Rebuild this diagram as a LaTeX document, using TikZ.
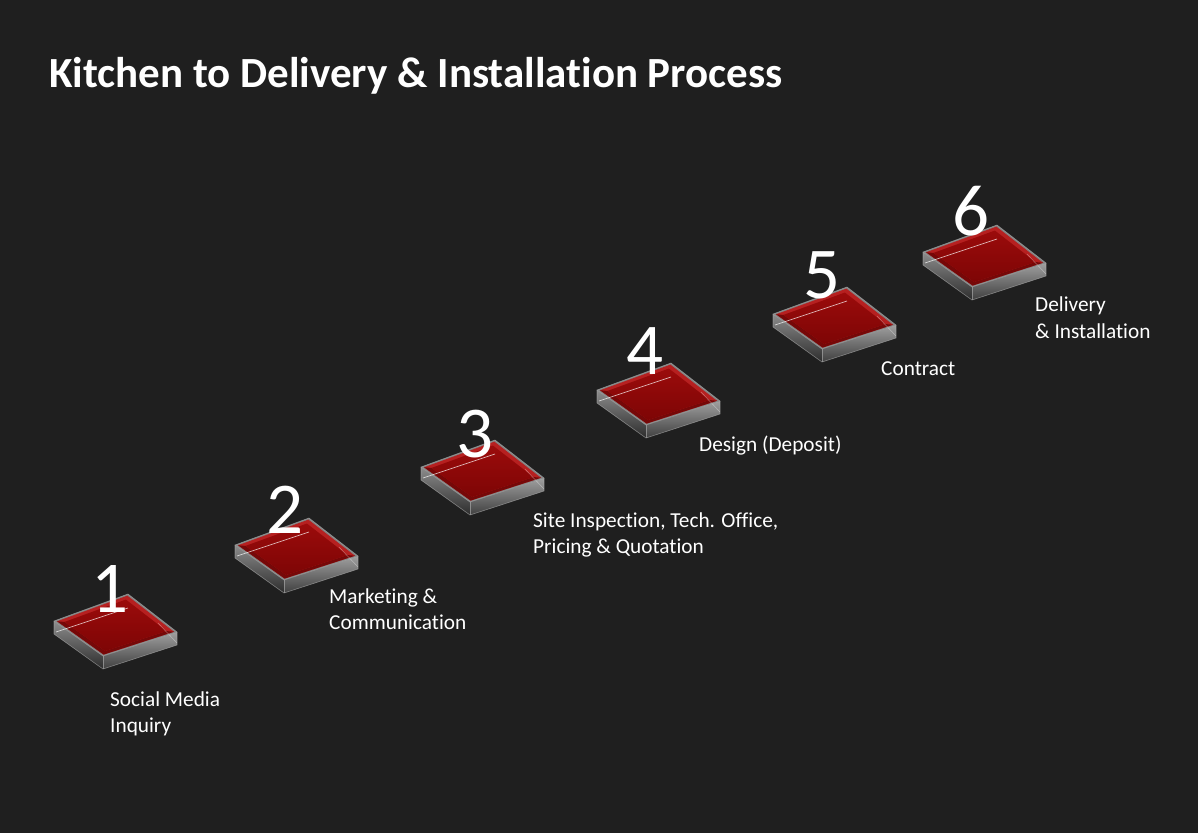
\documentclass[tikz,border=0pt]{standalone}
\usepackage{fontspec}
\setmainfont[Ligatures=NoCommon]{Carlito}
\usepackage{xcolor}
\usetikzlibrary{calc}

\definecolor{slidebg}{RGB}{31,31,31}
\definecolor{innerred}{RGB}{148,6,6}
\definecolor{bevelred}{RGB}{182,32,32}
\definecolor{frontred}{RGB}{118,8,8}
\definecolor{rimgray}{RGB}{130,130,130}

\begin{document}
\begin{tikzpicture}[x=1pt, y=-1pt,
        title/.style={text=white, inner sep=0pt, font=\fontsize{43}{48}\selectfont\bfseries},
        num/.style={text=white, inner sep=0pt, font=\fontsize{73}{80}\selectfont},
        steplabel/.style={text=white, inner sep=0pt, align=left, font=\fontsize{21.3}{26.6}\selectfont},
        edge/.style={draw=white!70!black, draw opacity=0.6, line width=0.6pt}]
        \fill [slidebg] (0,0) rectangle (1198,833);
        \useasboundingbox (0,0) rectangle (1198,833);

        \node [title, anchor=base west] (title) at (49, 87) {Kitchen to Delivery \& Installation Process};

        % glass tiles, left corner of the top face given
        \foreach \i/\lx/\ly/\nx/\ny in {1/54/621/110/612, 2/235/545/285/533, 3/421/467/475/457,
                                        4/597/390/645/374, 5/773/314/822/298, 6/923/252/971/235} {
            \begin{scope}[shift={(\lx,\ly)}]
                \coordinate (t\i-l) at (0,0);
                \coordinate (t\i-b) at (74,-27);
                \coordinate (t\i-r) at (123,11);
                \coordinate (t\i-f) at (49,35);
                \coordinate (t\i-c) at (61.5,5.5);
                % sides
                \shade [top color=gray!90!white, bottom color=black!65!gray] (t\i-l) -- (t\i-f) -- (49,48) -- (0,13) -- cycle;
                \shade [top color=gray!75!white, bottom color=black!50!gray] (t\i-f) -- (t\i-r) -- (123,24) -- (49,48) -- cycle;
                % top face
                \fill [rimgray] (t\i-l) -- (t\i-b) -- (t\i-r) -- (t\i-f) -- cycle;
                \fill [bevelred] ($(t\i-c)!0.95!(t\i-l)$) -- ($(t\i-c)!0.95!(t\i-b)$) -- ($(t\i-c)!0.95!(t\i-r)$)
                    -- ($(t\i-c)!0.95!(t\i-f)$) -- cycle;
                \fill [frontred] ($(t\i-c)!0.95!(t\i-l)$) -- ($(t\i-c)!0.95!(t\i-f)$) -- ($(t\i-c)!0.95!(t\i-r)$)
                    -- ($(t\i-c)!0.83!(t\i-r)$) -- ($(t\i-c)!0.83!(t\i-f)$) -- ($(t\i-c)!0.83!(t\i-l)$) -- cycle;
                \shade [top color=innerred!80!bevelred, bottom color=innerred!85!black]
                    ($(t\i-c)!0.83!(t\i-l)$) -- ($(t\i-c)!0.83!(t\i-b)$) -- ($(t\i-c)!0.83!(t\i-r)$)
                    -- ($(t\i-c)!0.83!(t\i-f)$) -- cycle;
                % outline
                \draw [edge] (t\i-l) -- (t\i-b) -- (t\i-r) -- (t\i-f) -- cycle;
                \draw [edge] (t\i-l) -- (0,13) -- (49,48) -- (123,24) -- (t\i-r);
                \draw [edge] (t\i-f) -- (49,48);
                % reflection
                \draw [white, opacity=0.7, line width=0.7pt] (2,11) -- (74,-13);
                \draw [white, opacity=0.35, line width=0.6pt] (104,2) -- (123,22);
            \end{scope}
            \node [num, anchor=base] (num\i) at (\nx,\ny) {\i};
        }

        % base anchor sits on the last line
        \node [steplabel, anchor=base west] (lab1) at (110, 732.6) {Social Media\\Inquiry};
        \node [steplabel, anchor=base west] (lab2) at (329, 629.6) {Marketing \&\\Communication};
        \node [steplabel, anchor=base west] (lab3) at (533, 553.6) {Site Inspection, Tech. Office,\\Pricing \& Quotation};
        \node [steplabel, anchor=base west] (lab4) at (699, 451) {Design (Deposit)};
        \node [steplabel, anchor=base west] (lab5) at (881, 375) {Contract};
        \node [steplabel, anchor=base west] (lab6) at (1035, 338.3) {Delivery\\\& Installation};
\end{tikzpicture}
\end{document}
